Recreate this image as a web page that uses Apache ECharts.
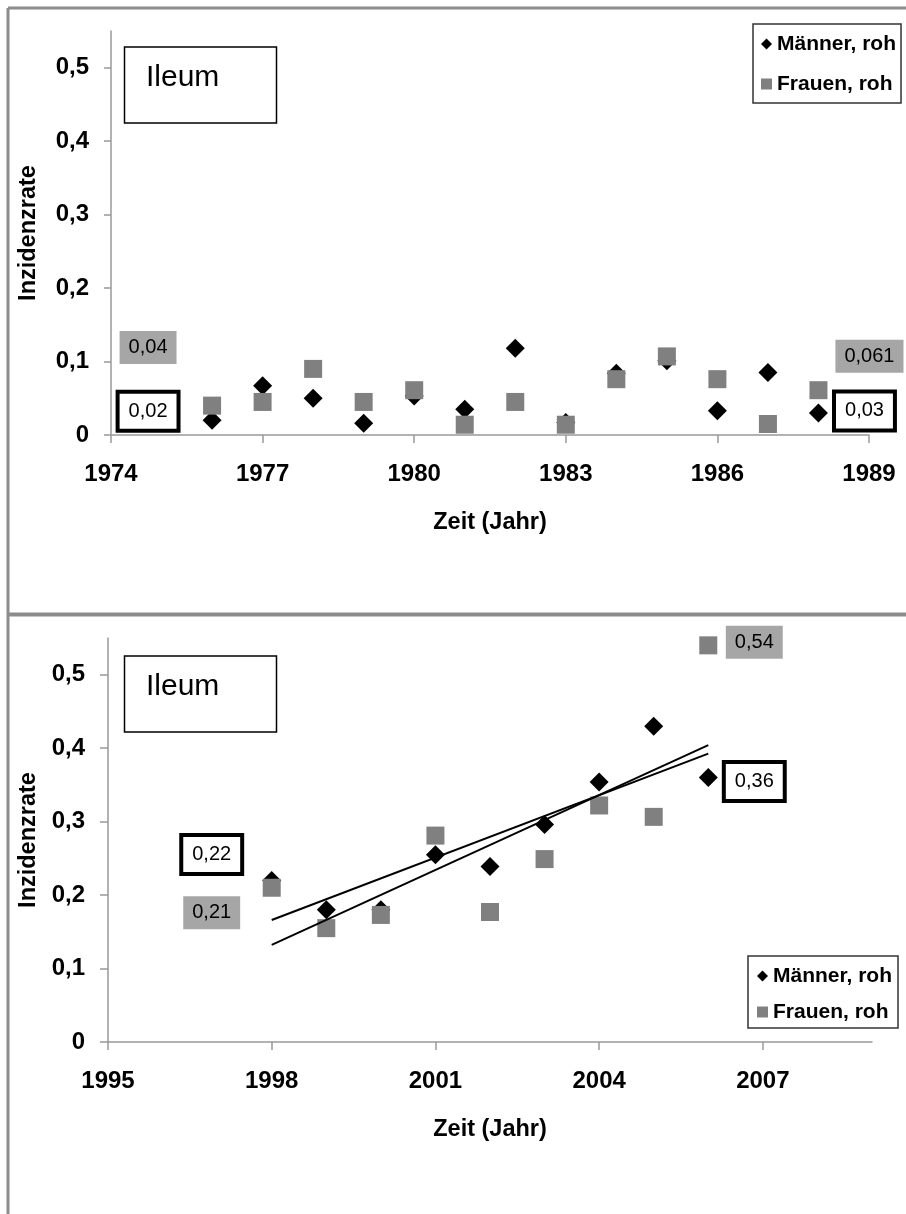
<!DOCTYPE html>
<html>
<head>
<meta charset="utf-8">
<script src="https://cdn.jsdelivr.net/npm/echarts@6/dist/echarts.min.js"></script>
<style>
  html, body { margin: 0; padding: 0; background: #fff; }
  #chart { width: 906px; height: 1214px; }
</style>
</head>
<body>
<div id="chart"></div>
<script>
const FONT = '"Liberation Sans", Arial, sans-serif';

// Crude incidence rates, ileum – period 1976–1988
const yearsEarly = [1976, 1977, 1978, 1979, 1980, 1981, 1982, 1983, 1984, 1985, 1986, 1987, 1988];
const menEarly   = [0.02, 0.067, 0.05, 0.016, 0.053, 0.035, 0.118, 0.017, 0.084, 0.101, 0.033, 0.085, 0.03];
const womenEarly = [0.04, 0.045, 0.09, 0.045, 0.061, 0.014, 0.045, 0.014, 0.076, 0.107, 0.076, 0.015, 0.061];

// Crude incidence rates, ileum – period 1998–2006
const yearsLate = [1998, 1999, 2000, 2001, 2002, 2003, 2004, 2005, 2006];
const menLate   = [0.22, 0.18, 0.18, 0.255, 0.239, 0.296, 0.354, 0.43, 0.36];
const womenLate = [0.21, 0.155, 0.173, 0.281, 0.177, 0.249, 0.322, 0.3065, 0.54];

// Axis ticks
const rateTicks = [0, 0.1, 0.2, 0.3, 0.4, 0.5];
const yearTicksEarly = [1974, 1977, 1980, 1983, 1986, 1989];
const yearTicksLate = [1995, 1998, 2001, 2004, 2007];

const MEN = 'Männer, roh';
const WOMEN = 'Frauen, roh';
const MEN_COLOR = '#000000';
const WOMEN_COLOR = '#808080';
const AXIS_COLOR = '#999999';

function commaNum(v) { return String(v).replace('.', ','); }

// Boxed value callouts for the first and last points of each series
const boxBlack = { backgroundColor: '#fff', borderColor: '#000', borderWidth: 4, padding: [7, 9, 6, 9] };
const boxGray  = { backgroundColor: '#a6a6a6', borderWidth: 0, padding: [6, 9, 5, 9] };

function makePoints(xs, ys, callouts, box) {
  return xs.map((x, i) => {
    const item = { value: [x, ys[i]] };
    if (callouts[i]) {
      item.label = Object.assign({
        show: true,
        position: 'inside',
        offset: callouts[i],
        formatter: p => commaNum(p.value[1]),
        color: '#000',
        fontFamily: FONT,
        fontSize: 20,
        lineHeight: 22
      }, box);
    }
    return item;
  });
}

// Least-squares trend line, evaluated at the first and last year
function linearTrend(xs, ys) {
  const n = xs.length;
  const mx = xs.reduce((a, b) => a + b, 0) / n;
  const my = ys.reduce((a, b) => a + b, 0) / n;
  let sxy = 0, sxx = 0;
  for (let i = 0; i < n; i++) {
    sxy += (xs[i] - mx) * (ys[i] - my);
    sxx += (xs[i] - mx) * (xs[i] - mx);
  }
  const b = sxy / sxx;
  const a = my - b * mx;
  return [[xs[0], a + b * xs[0]], [xs[n - 1], a + b * xs[n - 1]]];
}

const tickText = { color: '#000', fontFamily: FONT, fontWeight: 'bold', fontSize: 24 };
const nameText = { color: '#000', fontFamily: FONT, fontWeight: 'bold', fontSize: 23.5 };

function rateAxis(gridIndex, tickLen, margin, nameGap) {
  return {
    type: 'value', gridIndex, min: 0, max: 0.55,
    axisLine: { show: true, onZero: false, lineStyle: { color: AXIS_COLOR, width: 1.5 } },
    axisTick: { show: true, customValues: rateTicks, length: tickLen, lineStyle: { color: AXIS_COLOR, width: 1.5 } },
    axisLabel: Object.assign({ customValues: rateTicks, formatter: v => commaNum(v), margin }, tickText),
    splitLine: { show: false },
    name: 'Inzidenzrate', nameLocation: 'middle', nameGap,
    nameTextStyle: Object.assign({}, nameText)
  };
}

function yearAxis(gridIndex, min, max, ticks, margin, nameGap) {
  return {
    type: 'value', gridIndex, min, max,
    axisLine: { show: true, onZero: false, lineStyle: { color: AXIS_COLOR, width: 1.5 } },
    axisTick: { show: true, customValues: ticks, length: 8, lineStyle: { color: AXIS_COLOR, width: 1.5 } },
    axisLabel: Object.assign({ customValues: ticks, formatter: v => String(v), margin }, tickText),
    splitLine: { show: false },
    name: 'Zeit (Jahr)', nameLocation: 'middle', nameGap,
    nameTextStyle: Object.assign({}, nameText)
  };
}

function legendBox(left, top, padding, itemGap) {
  return {
    orient: 'vertical', left, top, padding, itemGap,
    itemWidth: 11, itemHeight: 11,
    borderColor: '#333', borderWidth: 1.5, backgroundColor: '#fff',
    selectedMode: false,
    textStyle: { color: '#000', fontFamily: FONT, fontWeight: 'bold', fontSize: 21, lineHeight: 22 },
    data: [{ name: MEN, icon: 'diamond' }, { name: WOMEN, icon: 'rect' }]
  };
}

function scatter(name, xi, data, symbol, size, color) {
  return {
    type: 'scatter', name, xAxisIndex: xi, yAxisIndex: xi,
    symbol, symbolSize: size, data,
    itemStyle: { color, opacity: 1 },
    emphasis: { disabled: true }
  };
}

function trend(name, xs, ys) {
  return {
    type: 'line', name: name + ' (Trend)', xAxisIndex: 1, yAxisIndex: 1,
    data: linearTrend(xs, ys), symbol: 'none', silent: true, z: 5,
    lineStyle: { color: '#000', width: 2 }
  };
}

function ileumBox(top) {
  return [
    { type: 'rect', shape: { x: 124.5, y: top, width: 152, height: 76 },
      style: { fill: '#fff', stroke: '#000', lineWidth: 1.5 }, z: 10 },
    { type: 'text', x: 146, y: top + 31, z: 11,
      style: { text: 'Ileum', font: '30px ' + FONT, fill: '#000', verticalAlign: 'middle' } }
  ];
}

const chart = echarts.init(document.getElementById('chart'), null, { renderer: 'canvas' });

chart.setOption({
  animation: false,
  backgroundColor: '#fff',
  grid: [
    { left: 111, top: 31, width: 758, height: 404, outerBoundsMode: 'none', containLabel: false },
    { left: 108, top: 638, width: 764, height: 404, outerBoundsMode: 'none', containLabel: false }
  ],
  xAxis: [
    yearAxis(0, 1974, 1989, yearTicksEarly, 27, 76),
    yearAxis(1, 1995, 2009, yearTicksLate, 27, 76)
  ],
  yAxis: [
    rateAxis(0, 7, 22, 70),
    rateAxis(1, 8, 23, 67)
  ],
  legend: [
    legendBox(753, 24, [9, 5, 8, 8], 18),
    legendBox(748, 956, [9, 6, 5, 9], 14)
  ],
  series: [
    scatter(MEN, 0, makePoints(yearsEarly, menEarly, { 0: [-64, -9], 12: [46, -2] }, boxBlack), 'diamond', 19, MEN_COLOR),
    scatter(WOMEN, 0, makePoints(yearsEarly, womenEarly, { 0: [-64, -58], 12: [51, -34] }, boxGray), 'rect', 18, WOMEN_COLOR),
    scatter(MEN, 1, makePoints(yearsLate, menLate, { 0: [-60, -26], 8: [46, 4] }, boxBlack), 'diamond', 19, MEN_COLOR),
    scatter(WOMEN, 1, makePoints(yearsLate, womenLate, { 0: [-60, 25], 8: [46, -3] }, boxGray), 'rect', 18, WOMEN_COLOR),
    trend(MEN, yearsLate, menLate),
    trend(WOMEN, yearsLate, womenLate)
  ],
  graphic: [
    { type: 'line', shape: { x1: 8, y1: 8, x2: 906, y2: 8 }, style: { stroke: '#8c8c8c', lineWidth: 3 } },
    { type: 'line', shape: { x1: 8, y1: 8, x2: 8, y2: 1214 }, style: { stroke: '#8c8c8c', lineWidth: 3 } },
    { type: 'line', shape: { x1: 8, y1: 614.5, x2: 906, y2: 614.5 }, style: { stroke: '#8c8c8c', lineWidth: 4 } },
    ...ileumBox(47),
    ...ileumBox(656)
  ]
});
</script>
</body>
</html>
